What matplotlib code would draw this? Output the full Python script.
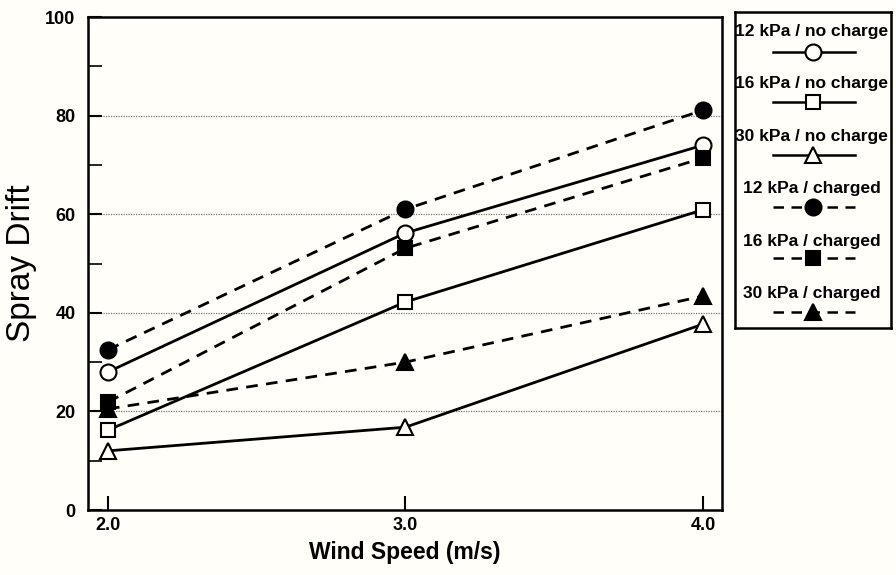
import matplotlib
matplotlib.use('agg')
import matplotlib.pyplot as plt
from matplotlib.lines import Line2D

plt.rcParams['font.family'] = ['Liberation Sans', 'DejaVu Sans']

wind_speed = [2.0, 3.0, 4.0]
series_names = ["12 kPa / no charge", "16 kPa / no charge", "30 kPa / no charge",
                "12 kPa / charged", "16 kPa / charged", "30 kPa / charged"]
drift_12_nocharge = [28.0, 56.2, 74.0]
drift_16_nocharge = [16.2, 42.2, 60.9]
drift_30_nocharge = [12.0, 16.8, 37.7]
drift_12_charged = [32.5, 61.0, 81.1]
drift_16_charged = [21.9, 53.1, 71.4]
drift_30_charged = [20.5, 30.0, 43.4]

series = [drift_12_nocharge, drift_16_nocharge, drift_30_nocharge,
          drift_12_charged, drift_16_charged, drift_30_charged]
markers = ['o', 's', '^', 'o', 's', '^']
filled = [False, False, False, True, True, True]

dash = (0, (4.2, 3.0))
bg = '#fffef8'
fig = plt.figure(figsize=(8.96, 5.75), dpi=100, facecolor=bg)
ax = fig.add_axes([0.0982, 0.113, 0.7076, 0.8574], facecolor=bg)

for vals, m, f in zip(series, markers, filled):
    ax.plot(wind_speed, vals, color='black', lw=2.0, linestyle=dash if f else '-',
            marker=m, markersize=11.5 if m != 's' else 10.5,
            markerfacecolor='black' if f else bg,
            markeredgecolor='black', markeredgewidth=1.5, zorder=3)

ax.set_xlim(1.933, 4.064)
ax.set_ylim(0, 100)
ax.set_xticks(wind_speed)
ax.set_xticklabels(['2.0', '3.0', '4.0'])
ax.set_yticks([0, 20, 40, 60, 80, 100])
ax.set_yticks([10, 30, 50, 70, 90], minor=True)
ax.tick_params(axis='both', which='major', direction='in', length=10, width=1.5,
               labelsize=13)
ax.tick_params(axis='x', which='major', pad=5)
ax.tick_params(axis='y', which='major', pad=9)
ax.tick_params(axis='y', which='minor', direction='in', length=10, width=1.2)
for lab in ax.get_xticklabels() + ax.get_yticklabels():
    lab.set_fontweight('bold')
for y in [20, 40, 60, 80]:
    ax.axhline(y, color='#777777', lw=0.9, linestyle=(0, (1, 1)), zorder=1)
for s in ax.spines.values():
    s.set_linewidth(1.8)

ax.set_xlabel('Wind Speed (m/s)', fontsize=16.5, fontweight='bold', labelpad=5)
ax.set_ylabel('Spray Drift', fontsize=24, labelpad=6)

# legend box: label on top, sample line with marker underneath
lax = fig.add_axes([0.820, 0.4296, 0.174, 0.5496], facecolor=bg)
lax.set_xlim(0, 156)
lax.set_ylim(316, 0)
lax.set_xticks([])
lax.set_yticks([])
for s in lax.spines.values():
    s.set_linewidth(1.8)
text_y = [20, 72, 125, 177, 230, 282]
line_y = [40, 90, 143, 195, 246, 300]
for name, m, f, ty, ly in zip(series_names, markers, filled, text_y, line_y):
    lax.text(77, ty, name, ha='center', va='center', fontsize=12.5, fontweight='bold')
    lax.add_line(Line2D([38, 120], [ly, ly], color='black', lw=1.8,
                        linestyle=dash if f else '-'))
    lax.add_line(Line2D([78], [ly], marker=m, markersize=11.5 if m != 's' else 10.5,
                        markerfacecolor='black' if f else bg,
                        markeredgecolor='black', markeredgewidth=1.5, linestyle='none'))

plt.savefig('out.png', dpi=100, facecolor=bg)
plt.close()
